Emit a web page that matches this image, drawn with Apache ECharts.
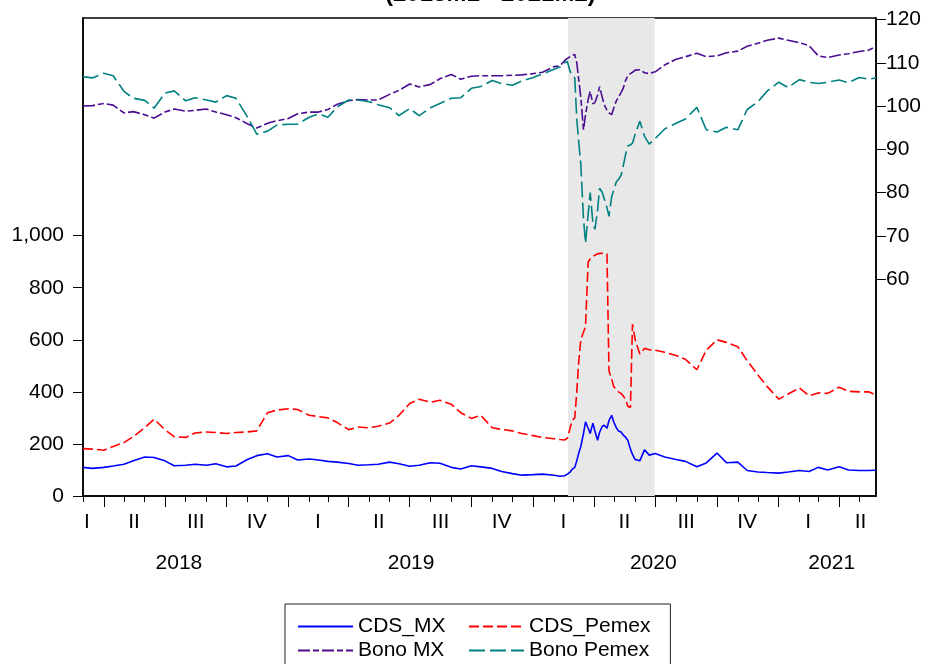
<!DOCTYPE html>
<html>
<head>
<meta charset="utf-8">
<script src="https://cdn.jsdelivr.net/npm/echarts@6/dist/echarts.min.js"></script>
<style>
html,body{margin:0;padding:0;background:#fff;}
#chart{width:933px;height:664px;}
</style>
</head>
<body>
<div id="chart"></div>
<script>
var dates = ['2018-03-01','2018-03-15','2018-04-01','2018-04-15','2018-05-01','2018-05-15','2018-06-01','2018-06-15','2018-07-01','2018-07-15','2018-08-01','2018-08-15','2018-09-01','2018-09-15','2018-10-01','2018-10-15','2018-11-01','2018-11-15','2018-12-01','2018-12-15',
'2019-01-01','2019-01-15','2019-02-01','2019-02-15','2019-03-01','2019-03-15','2019-04-01','2019-04-15','2019-05-01','2019-05-15','2019-06-01','2019-06-15','2019-07-01','2019-07-15','2019-08-01','2019-08-15','2019-09-01','2019-09-15','2019-10-01','2019-10-15','2019-11-01','2019-11-15','2019-12-01','2019-12-15',
'2020-01-01','2020-01-15','2020-02-01','2020-02-10','2020-02-17','2020-02-21','2020-02-25','2020-02-28',
'2020-03-03','2020-03-06','2020-03-09','2020-03-12','2020-03-16','2020-03-19','2020-03-23','2020-03-26','2020-03-30',
'2020-04-02','2020-04-06','2020-04-09','2020-04-13','2020-04-16','2020-04-20','2020-04-23','2020-04-27','2020-04-30',
'2020-05-04','2020-05-07','2020-05-11','2020-05-14','2020-05-18','2020-05-21','2020-05-25','2020-05-28',
'2020-06-01','2020-06-08','2020-06-15','2020-06-22',
'2020-07-01','2020-07-15','2020-08-01','2020-08-15','2020-09-01','2020-09-15','2020-10-01','2020-10-15','2020-11-01','2020-11-15','2020-12-01','2020-12-15',
'2021-01-01','2021-01-15','2021-02-01','2021-02-15','2021-03-01','2021-03-15','2021-04-01','2021-04-15','2021-05-01','2021-05-15','2021-05-26'];

var cdsMx = [110,106,110,115,122,135,150,148,135,116,118,122,118,124,112,115,140,155,162,150,
155,138,142,138,133,130,125,118,120,122,130,124,114,118,128,126,110,104,116,112,106,94,86,80,
82,84,80,76,78,84,92,102,
110,135,165,190,240,285,260,240,280,
250,214,245,268,272,260,290,310,285,
262,250,246,235,225,214,180,160,
140,135,178,157,
163,150,140,133,112,127,165,128,130,98,92,90,
88,92,98,94,110,100,112,100,98,98,99];

var cdsPemex = [182,180,176,190,205,228,262,295,255,228,225,242,246,244,240,244,246,250,320,330,
335,332,310,305,300,282,255,265,262,268,280,310,355,372,360,368,352,320,298,310,262,256,250,240,
232,225,220,217,215,222,260,290,
300,400,520,600,630,650,900,910,920,
925,930,932,932,932,930,480,450,420,
410,400,394,385,370,345,340,660,
600,545,567,562,
560,552,540,525,485,560,600,590,573,520,465,420,
372,392,415,385,396,394,418,402,400,400,388];

var bonoMx = [100.0,100.1,100.6,100.2,98.4,98.7,98.0,97.2,98.6,99.3,98.8,99.0,99.3,98.6,98.0,97.3,95.9,94.9,96.0,96.6,
97.1,98.2,98.6,98.6,99.2,100.4,101.2,101.5,101.4,101.4,102.7,103.6,105.1,104.4,105.0,106.3,107.3,106.2,106.9,107.0,107.0,107.0,107.1,107.2,
107.5,107.8,109.1,109.3,110.5,111.0,111.4,111.7,
111.9,110.0,106.0,102.0,94.5,98.0,101.5,103.4,100.5,
100.8,102.5,104.5,102.0,100.3,99.0,98.4,98.0,99.5,
101.2,102.0,103.1,104.0,106.0,107.0,107.5,107.8,
108.3,108.4,107.7,107.5,
107.9,109.5,110.8,111.4,112.2,111.4,111.6,112.3,112.7,113.8,114.5,115.2,
115.7,115.2,114.6,114.0,111.6,111.2,111.8,112.1,112.6,112.9,113.8];

var bonoPemex = [106.8,106.5,107.6,107.0,103.4,101.8,101.3,99.5,103.0,103.5,101.2,101.9,101.4,100.9,102.4,101.8,97.5,93.5,94.2,95.6,
95.8,95.8,97.4,98.2,97.4,99.8,101.4,101.4,101.0,100.3,99.6,97.8,99.4,97.8,99.6,100.6,101.8,101.9,104.1,104.5,105.9,105.2,104.8,105.8,
106.6,107.4,108.5,109.0,110.0,110.3,108.0,107.0,
106.5,97.0,91.5,86.5,74.0,68.3,75.0,80.0,73.0,
71.5,76.0,81.0,80.0,78.5,76.5,74.5,79.0,80.5,
82.5,83.0,84.0,86.0,89.0,90.8,91.0,91.4,
93.5,96.5,93.0,91.2,
92.5,94.7,96.0,97.0,99.7,94.5,94.0,95.1,94.5,99.2,101.0,103.5,
105.5,104.3,106.1,105.5,105.2,105.5,106.0,105.4,106.6,106.2,106.5];

var seriesNames = ['CDS_MX','CDS_Pemex','Bono MX','Bono Pemex'];
var leftTicks = [0,200,400,600,800,1000];
var rightTicks = [60,70,80,90,100,110,120];
var quarterLabelDates = ['2018-03-07','2018-05-16','2018-08-16','2018-11-15','2019-02-14','2019-05-16','2019-08-16','2019-11-15','2020-02-15','2020-05-16','2020-08-16','2020-11-15','2021-02-14','2021-05-03'];
var quarterLabels = ['I','II','III','IV','I','II','III','IV','I','II','III','IV','I','II'];
var yearLabelDates = ['2018-07-22','2019-07-03','2020-06-28','2021-03-21'];
var yearLabels = ['2018','2019','2020','2021'];
var shadeRange = ['2020-02-22','2020-06-30'];
var xStart = '2018-03-01', xEnd = '2021-05-26';
var titleText = '(2018M1 - 2021M2)';

function ts(s){ var p = s.split('-'); return new Date(+p[0], +p[1]-1, +p[2]).getTime(); }
var monthTicks = [], quarterTicks = [];
for (var y = 2018; y <= 2021; y++) {
  for (var m = 0; m < 12; m++) {
    var t = new Date(y, m, 1).getTime();
    if (t >= ts(xStart) && t <= ts(xEnd)) {
      monthTicks.push(t);
      if (m % 3 === 0) quarterTicks.push(t);
    }
  }
}
var qTs = quarterLabelDates.map(ts);
var yTs = yearLabelDates.map(ts);
function nearestIdx(arr, v){ var bi=0, bd=Infinity; for (var i=0;i<arr.length;i++){ var d=Math.abs(arr[i]-v); if(d<bd){bd=d;bi=i;} } return bi; }

var FONT = 'Liberation Sans, Arial, sans-serif';
var chart = echarts.init(document.getElementById('chart'), null, {renderer:'canvas'});
function mk(arr){ return dates.map(function(d,i){ return [ts(d), arr[i]]; }); }
var X0 = ts(xStart), X1 = ts(xEnd);

var option = {
  animation: false,
  backgroundColor: '#fff',
  title: {
    text: titleText, left: 385, top: -18, padding: 0,
    textStyle: {fontFamily: FONT, fontSize: 24, fontWeight: 'bold', color: '#000'}
  },
  grid: {left: 83, right: 57, top: 18, bottom: 168, show: true, borderColor: '#000', borderWidth: 1.5, backgroundColor: 'transparent', containLabel: false},
  legend: {
    data: seriesNames,
    left: 285, top: 604,
    width: 392,
    padding: [12, 20, 12, 12],
    itemGap: 3,
    itemWidth: 55, itemHeight: 14,
    itemStyle: {opacity: 0},
    borderColor: '#222', borderWidth: 1,
    textStyle: {fontFamily: FONT, fontSize: 21, color: '#000', width: 107, lineHeight: 21}
  },
  xAxis: [
    {type: 'value', position: 'bottom', min: X0, max: X1, scale: true,
     axisLine: {show: true, onZero: false, lineStyle: {color: '#000', width: 1.5}},
     axisTick: {show: true, customValues: monthTicks, length: 6, lineStyle: {color: '#000'}},
     axisLabel: {show: false}, splitLine: {show: false}},
    {type: 'value', position: 'bottom', min: X0, max: X1, scale: true,
     axisLine: {show: false, onZero: false},
     axisTick: {show: true, customValues: quarterTicks, length: 11, lineStyle: {color: '#000'}},
     axisLabel: {show: true, customValues: qTs, margin: 16, fontFamily: FONT, fontSize: 21, color: '#000',
       formatter: function(v){ return quarterLabels[nearestIdx(qTs, v)]; }},
     splitLine: {show: false}},
    {type: 'value', position: 'bottom', min: X0, max: X1, scale: true,
     axisLine: {show: false, onZero: false}, axisTick: {show: false},
     axisLabel: {show: true, customValues: yTs, margin: 57, fontFamily: FONT, fontSize: 21, color: '#000',
       formatter: function(v){ return yearLabels[nearestIdx(yTs, v)]; }},
     splitLine: {show: false}}
  ],
  yAxis: [
    {type: 'value', position: 'left', min: 0, max: 1836,
     axisLine: {show: true, lineStyle: {color: '#000', width: 1.5}},
     axisTick: {show: true, customValues: leftTicks, length: 10, lineStyle: {color: '#000'}},
     axisLabel: {show: true, customValues: leftTicks, margin: 19, fontFamily: FONT, fontSize: 21, color: '#000',
       formatter: function(v){ return String(Math.round(v)).replace(/\B(?=(\d{3})+(?!\d))/g, ','); }},
     splitLine: {show: false}},
    {type: 'value', position: 'right', min: 9.84, max: 120.35, alignTicks: false,
     axisLine: {show: true, lineStyle: {color: '#000', width: 1.5}},
     axisTick: {show: true, customValues: rightTicks, length: 10, lineStyle: {color: '#000'}},
     axisLabel: {show: true, customValues: rightTicks, margin: 10, fontFamily: FONT, fontSize: 21, color: '#000'},
     splitLine: {show: false}}
  ],
  series: [
    {name: 'shade', type: 'line', data: [], z: 1, silent: true, xAxisIndex: 0, yAxisIndex: 0,
     markArea: {silent: true, itemStyle: {color: '#e8e8e8'},
       data: [[{xAxis: ts(shadeRange[0])}, {xAxis: ts(shadeRange[1])}]]}},
    {name: 'CDS_MX', type: 'line', xAxisIndex: 0, yAxisIndex: 0, data: mk(cdsMx), symbol: 'none', z: 5,
     color: '#0000ff', lineStyle: {color: '#0000ff', width: 1.6, type: 'solid'}},
    {name: 'CDS_Pemex', type: 'line', xAxisIndex: 0, yAxisIndex: 0, data: mk(cdsPemex), symbol: 'none', z: 5,
     color: '#ff0000', lineStyle: {color: '#ff0000', width: 1.6, type: [10, 4]}},
    {name: 'Bono MX', type: 'line', xAxisIndex: 0, yAxisIndex: 1, data: mk(bonoMx), symbol: 'none', z: 5,
     color: '#4b0c91', lineStyle: {color: '#4b0c91', width: 1.6, type: [12, 3, 6, 3]}},
    {name: 'Bono Pemex', type: 'line', xAxisIndex: 0, yAxisIndex: 1, data: mk(bonoPemex), symbol: 'none', z: 5,
     color: '#008080', lineStyle: {color: '#008080', width: 1.6, type: [16, 5]}}
  ]
};
chart.setOption(option);
</script>
</body>
</html>
